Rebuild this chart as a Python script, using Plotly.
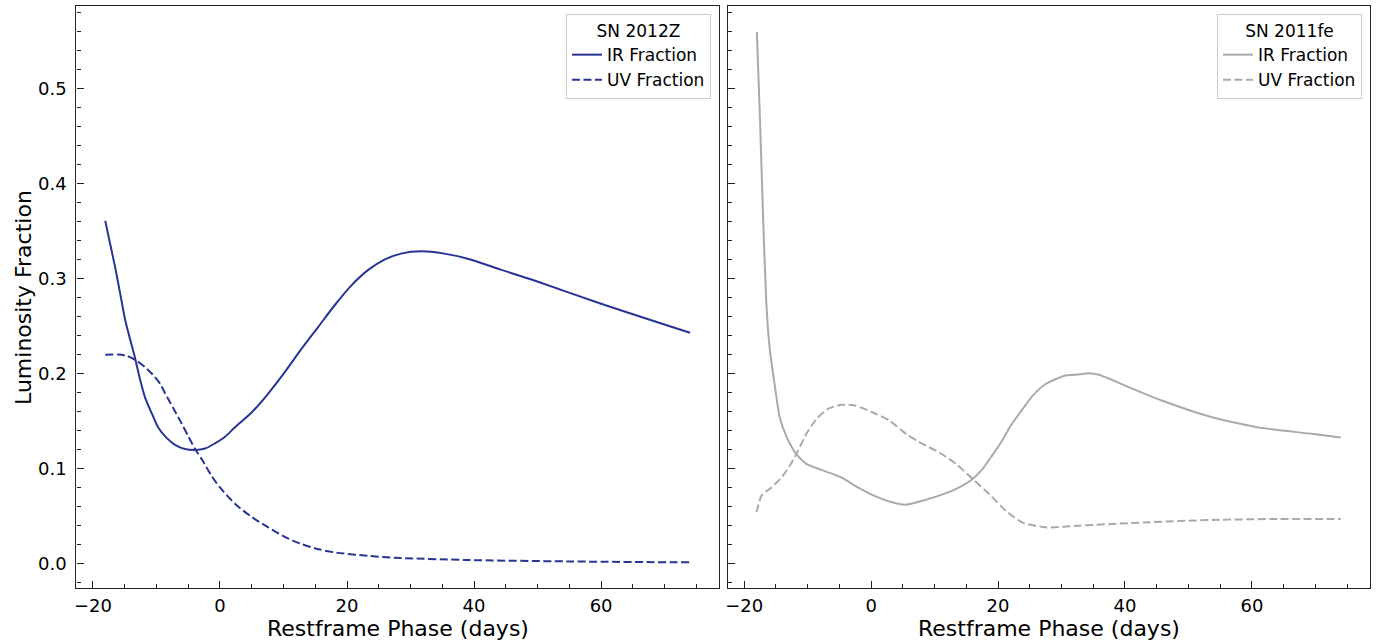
import plotly.graph_objects as go

# ---- data ----
z_ir_phase = [-18.06, -17.3, -16.5, -15.7, -14.9, -14.1, -13.35, -12.6, -11.8, -10.7, -9.7, -8.4,
              -7.07, -5.5, -3.93, -2.36, -0.79, 0.8, 2.36, 4.98, 7.6, 10.2, 12.83, 15.45, 18.06,
              20.7, 23.3, 25.9, 28.5, 31.7, 35.3, 39.0, 44.2, 49.5, 60.0, 74.0]
z_ir_frac = [0.361, 0.337, 0.312, 0.284, 0.256, 0.235, 0.216, 0.1945, 0.175, 0.1576, 0.143, 0.1323,
             0.125, 0.1205, 0.1195, 0.121, 0.1265, 0.1335, 0.1435, 0.159, 0.179, 0.2015, 0.226, 0.249,
             0.272, 0.293, 0.309, 0.320, 0.3264, 0.3288, 0.3264, 0.321, 0.3095, 0.298, 0.2736, 0.243]

z_uv_phase = [-18.06, -16.0, -14.7, -13.35, -11.8, -10.7, -9.4, -8.6, -7.3, -6.0, -4.96, -3.93,
              -2.7, -1.3, 0.0, 2.4, 4.98, 7.6, 10.2, 12.8, 15.5, 18.1, 23.3, 28.5, 39.0, 54.7, 74.0]
z_uv_frac = [0.2198, 0.220, 0.2187, 0.2145, 0.2068, 0.1998, 0.1892, 0.1787, 0.163, 0.147, 0.1337,
             0.1207, 0.108, 0.092, 0.080, 0.0627, 0.049, 0.038, 0.028, 0.0205, 0.015, 0.0116, 0.008,
             0.0057, 0.0036, 0.0021, 0.0011]

fe_ir_phase = [-18.0, -17.5, -17.0, -16.5, -16.0, -15.06, -14.4, -13.3, -11.8, -10.2, -7.84, -4.7,
               -2.1, 0.27, 3.0, 5.5, 8.1, 10.7, 13.4, 16.0, 17.5, 19.0, 20.5, 22.0, 23.8, 25.5,
               27.5, 30.6, 32.7, 34.3, 35.9, 40.6, 45.8, 53.7, 61.5, 69.4, 74.0]
fe_ir_frac = [0.560, 0.467, 0.3615, 0.2736, 0.228, 0.182, 0.154, 0.133, 0.1154, 0.1049, 0.0985, 0.0907,
              0.080, 0.072, 0.065, 0.0619, 0.0661, 0.0714, 0.0785, 0.089, 0.099, 0.113, 0.128, 0.145,
              0.162, 0.177, 0.189, 0.198, 0.199, 0.2004, 0.1987, 0.1857, 0.1716, 0.154, 0.1428,
              0.1365, 0.1326]

fe_uv_phase = [-18.05, -17.26, -15.7, -14.1, -12.8, -11.5, -10.2, -8.6, -6.8, -4.7, -2.6, 0.27, 2.9,
               5.5, 8.1, 10.7, 13.4, 16.0, 18.6, 21.2, 23.8, 27.5, 32.7, 43.2, 53.7, 64.1, 74.0]
fe_uv_frac = [0.0538, 0.0714, 0.080, 0.0907, 0.103, 0.119, 0.1365, 0.1523, 0.1629, 0.1671, 0.1664,
              0.159, 0.1505, 0.1365, 0.126, 0.117, 0.1049, 0.089, 0.0732, 0.0556, 0.0432, 0.038,
              0.0398, 0.0432, 0.0458, 0.0468, 0.0468]

NAVY = "#283593"
GREY = "#aaaaaa"
FONT = "DejaVu Sans"
DASH = "8px,3.5px"

fig = go.Figure()
fig.add_trace(go.Scatter(x=z_ir_phase, y=z_ir_frac, mode="lines", name="IR Fraction",
                         line=dict(color=NAVY, width=2, shape="spline", smoothing=0.8),
                         xaxis="x", yaxis="y", legend="legend"))
fig.add_trace(go.Scatter(x=z_uv_phase, y=z_uv_frac, mode="lines", name="UV Fraction",
                         line=dict(color=NAVY, width=2, dash=DASH, shape="spline", smoothing=0.8),
                         xaxis="x", yaxis="y", legend="legend"))
fig.add_trace(go.Scatter(x=fe_ir_phase, y=fe_ir_frac, mode="lines", name="IR Fraction",
                         line=dict(color=GREY, width=2, shape="spline", smoothing=0.6),
                         xaxis="x2", yaxis="y2", legend="legend2"))
fig.add_trace(go.Scatter(x=fe_uv_phase, y=fe_uv_frac, mode="lines", name="UV Fraction",
                         line=dict(color=GREY, width=2, dash=DASH, shape="spline", smoothing=0.6),
                         xaxis="x2", yaxis="y2", legend="legend2"))

W, H = 1379, 642
TICKFONT = dict(family=FONT, size=18, color="black")
common_x = dict(range=[-22.6, 78.6], tick0=0, dtick=20, ticks="inside", ticklen=7, tickwidth=1.2,
                tickcolor="#222", showline=True, mirror=True, linecolor="#222", linewidth=1.3,
                showgrid=False, zeroline=False, ticklabelstandoff=1, tickfont=TICKFONT,
                minor=dict(dtick=5, tick0=0, ticks="inside", ticklen=4, tickwidth=1, tickcolor="#222"))
common_y = dict(range=[-0.0259, 0.5876], tick0=0, dtick=0.1, tickformat=".1f", ticks="inside",
                ticklen=7, tickwidth=1.2, tickcolor="#222", showline=True, mirror=True,
                linecolor="#222", linewidth=1.3, showgrid=False, zeroline=False,
                ticklabelstandoff=5,
                minor=dict(dtick=0.02, tick0=0, ticks="inside", ticklen=4, tickwidth=1, tickcolor="#222"))

LEGFONT = dict(family=FONT, size=17, color="black")
y_dom = [(H - 588) / H, (H - 5.7) / H]
fig.update_layout(
    width=W, height=H, margin=dict(l=0, r=0, t=0, b=0),
    paper_bgcolor="white", plot_bgcolor="white",
    font=dict(family=FONT, color="black"),
    xaxis=dict(domain=[74.5 / W, 718.3 / W], anchor="y", **common_x),
    xaxis2=dict(domain=[726.7 / W, 1370 / W], anchor="y2", **common_x),
    yaxis=dict(domain=y_dom, anchor="x", tickfont=TICKFONT, **common_y),
    yaxis2=dict(domain=y_dom, anchor="x2", matches="y", showticklabels=False, **common_y),
    legend=dict(x=710 / W, y=1 - 14 / H, xanchor="right", yanchor="top",
                bgcolor="white", bordercolor="#cccccc", borderwidth=1, font=LEGFONT,
                title=dict(text="SN 2012Z", side="top center", font=LEGFONT)),
    legend2=dict(x=1362 / W, y=1 - 14 / H, xanchor="right", yanchor="top",
                 bgcolor="white", bordercolor="#cccccc", borderwidth=1, font=LEGFONT,
                 title=dict(text="SN 2011fe", side="top center", font=LEGFONT)),
    annotations=[
        dict(text="Restframe Phase (days)", x=396.4 / W, y=(H - 628) / H, xref="paper", yref="paper",
             xanchor="center", yanchor="middle", showarrow=False,
             font=dict(family=FONT, size=22, color="black")),
        dict(text="Restframe Phase (days)", x=1048.4 / W, y=(H - 628) / H, xref="paper", yref="paper",
             xanchor="center", yanchor="middle", showarrow=False,
             font=dict(family=FONT, size=22, color="black")),
        dict(text="Luminosity Fraction", x=21 / W, y=(H - 297) / H, xref="paper", yref="paper",
             xanchor="center", yanchor="middle", showarrow=False, textangle=-90,
             font=dict(family=FONT, size=22, color="black")),
    ],
)

fig.write_html("out.html", config={"displayModeBar": False},
               post_script="document.body.style.margin='0';document.body.style.overflow='hidden';")
